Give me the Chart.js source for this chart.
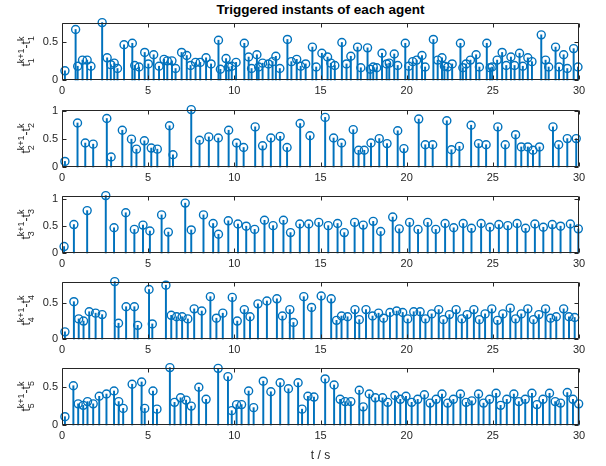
<!DOCTYPE html>
<html>
<head>
<meta charset="utf-8">
<script src="https://cdn.jsdelivr.net/npm/chart.js@4/dist/chart.umd.min.js"></script>
<style>
  html, body { margin: 0; padding: 0; background: #fff; }
  #fig { position: relative; width: 606px; height: 466px; overflow: hidden; background: #fff; }
  #fig canvas { position: absolute; left: 0; }
  #title { position: absolute; left: 62px; width: 517px; top: 2px; text-align: center;
           font: bold 13.5px "Liberation Sans", Arial, sans-serif; color: #000; }
</style>
</head>
<body>
<div id="fig"><div id="title">Triggered instants of each agent</div></div>
<script>
// Trigger instants t_i^k (s) and inter-event intervals t_i^{k+1} - t_i^k (s) for each agent
const t1 = [0.17,0.79,0.91,1.19,1.46,1.68,2.33,2.62,2.83,3.03,
            3.22,3.6,4.08,4.22,4.47,4.8,5.01,5.32,5.63,5.92,
            6.11,6.38,6.59,6.94,7.24,7.46,7.75,8.02,8.36,8.65,
            9.08,9.19,9.52,9.67,9.85,10.1,10.58,10.83,11.0,11.31,
            11.41,11.64,11.98,12.22,12.41,12.64,13.08,13.31,13.62,13.85,
            14.14,14.53,14.75,15.08,15.41,15.6,15.83,16.24,16.51,16.76,
            17.15,17.34,17.73,17.89,18.06,18.26,18.57,18.84,18.99,19.28,
            19.48,19.92,20.12,20.35,20.58,20.89,21.07,21.55,21.8,22.05,
            22.19,22.38,22.64,23.12,23.26,23.45,23.7,24.03,24.22,24.65,
            24.84,24.96,25.25,25.54,25.78,26.05,26.26,26.55,26.74,27.03,
            27.27,27.81,28.06,28.24,28.64,28.84,29.11,29.32,29.69,29.94];
const d1 = [0.12,0.66,0.18,0.26,0.26,0.18,0.75,0.29,0.2,0.22,
            0.15,0.46,0.48,0.19,0.17,0.36,0.21,0.33,0.18,0.27,
            0.25,0.25,0.15,0.36,0.32,0.19,0.23,0.23,0.29,0.21,
            0.52,0.14,0.28,0.17,0.18,0.23,0.48,0.3,0.15,0.33,
            0.17,0.22,0.21,0.24,0.31,0.15,0.53,0.24,0.27,0.18,
            0.21,0.43,0.17,0.35,0.3,0.22,0.19,0.49,0.21,0.31,
            0.43,0.16,0.42,0.14,0.17,0.16,0.35,0.21,0.22,0.34,
            0.19,0.48,0.18,0.24,0.26,0.32,0.17,0.53,0.26,0.29,
            0.18,0.17,0.21,0.48,0.16,0.21,0.26,0.33,0.17,0.48,
            0.16,0.17,0.26,0.36,0.19,0.3,0.19,0.35,0.18,0.29,
            0.24,0.59,0.26,0.17,0.43,0.17,0.33,0.15,0.41,0.17];

const t2 = [0.17,0.9,1.35,1.81,2.6,2.85,3.5,4.03,4.32,4.78,
            5.18,5.53,6.24,6.44,7.5,7.98,8.52,9.07,9.67,10.13,
            10.54,11.21,11.64,12.12,12.66,13.06,13.82,14.39,15.27,15.76,
            16.22,16.9,17.21,17.54,17.93,18.41,18.86,19.48,19.84,20.7,
            21.08,21.51,22.33,22.6,23.06,23.74,24.17,24.61,25.29,25.72,
            26.32,26.65,27.03,27.33,27.71,28.49,28.82,29.32,29.84];
const d2 = [0.1,0.79,0.43,0.41,0.87,0.18,0.66,0.5,0.32,0.47,
            0.34,0.32,0.74,0.22,1.03,0.48,0.54,0.52,0.66,0.43,
            0.35,0.72,0.38,0.52,0.55,0.35,0.78,0.56,0.89,0.52,
            0.43,0.67,0.3,0.3,0.43,0.51,0.42,0.65,0.33,0.86,
            0.4,0.4,0.83,0.31,0.37,0.75,0.42,0.4,0.72,0.4,
            0.58,0.36,0.36,0.3,0.36,0.72,0.4,0.51,0.51];

const t3 = [0.12,0.69,1.46,2.54,3.02,3.7,4.2,4.7,5.1,5.78,
            6.17,7.15,7.5,8.21,8.77,9.08,9.65,10.21,10.69,11.18,
            11.75,12.25,12.85,13.26,13.8,14.32,14.9,15.45,15.99,16.38,
            16.98,17.48,18.06,18.49,19.19,19.57,20.17,20.66,21.22,21.69,
            22.23,22.73,23.28,23.76,24.32,24.83,25.35,25.87,26.41,26.9,
            27.44,27.93,28.45,28.93,29.5,29.96];
const d3 = [0.12,0.53,0.79,1.07,0.47,0.75,0.44,0.52,0.41,0.71,
            0.39,0.93,0.43,0.71,0.55,0.35,0.6,0.54,0.5,0.44,
            0.61,0.51,0.61,0.38,0.54,0.54,0.57,0.51,0.55,0.38,
            0.57,0.52,0.59,0.4,0.67,0.45,0.57,0.44,0.57,0.44,
            0.55,0.47,0.55,0.46,0.55,0.48,0.53,0.51,0.55,0.46,
            0.54,0.48,0.53,0.5,0.54,0.45];

const t4 = [0.17,0.69,0.97,1.25,1.58,1.95,2.33,3.06,3.28,3.72,
            4.2,4.39,5.05,5.24,6.03,6.34,6.65,6.97,7.3,7.67,
            8.11,8.61,8.96,9.33,9.88,10.17,10.58,10.91,11.37,11.89,
            12.47,12.79,13.22,13.43,14.03,14.48,15.04,15.62,15.93,16.22,
            16.57,17.0,17.25,17.64,18.02,18.37,18.66,19.03,19.42,19.77,
            20.06,20.41,20.78,21.09,21.45,21.86,22.13,22.48,22.87,23.2,
            23.51,23.9,24.22,24.55,24.94,25.27,25.58,26.01,26.32,26.65,
            27.03,27.36,27.67,28.06,28.35,28.68,29.11,29.42,29.75];
const d4 = [0.1,0.52,0.28,0.25,0.38,0.36,0.34,0.8,0.22,0.45,
            0.45,0.19,0.69,0.21,0.75,0.33,0.31,0.31,0.28,0.42,
            0.39,0.59,0.29,0.36,0.58,0.25,0.41,0.31,0.49,0.53,
            0.56,0.32,0.41,0.23,0.59,0.44,0.6,0.56,0.26,0.32,
            0.31,0.41,0.27,0.41,0.32,0.36,0.29,0.37,0.39,0.37,
            0.28,0.38,0.38,0.28,0.35,0.41,0.27,0.34,0.41,0.28,
            0.34,0.41,0.27,0.35,0.42,0.26,0.35,0.43,0.28,0.35,
            0.42,0.27,0.34,0.42,0.29,0.31,0.42,0.31,0.3];

const t5 = [0.17,0.66,0.94,1.23,1.48,1.81,2.16,2.58,3.02,3.29,
            3.55,4.07,4.62,4.8,5.28,5.51,6.26,6.53,6.88,7.2,
            7.5,7.94,8.36,9.06,9.63,9.85,10.13,10.42,10.83,11.12,
            11.68,12.12,12.66,13.14,13.7,13.93,14.27,14.62,15.27,15.79,
            16.14,16.43,16.76,17.25,17.48,17.83,18.18,18.6,18.9,19.32,
            19.63,19.96,20.29,20.64,21.03,21.36,21.71,22.05,22.38,22.71,
            23.12,23.45,23.78,24.17,24.46,24.81,25.19,25.45,25.81,26.22,
            26.51,26.88,27.27,27.56,27.91,28.29,28.62,28.93,29.32,29.65,29.98];
const d5 = [0.11,0.52,0.28,0.26,0.31,0.28,0.38,0.41,0.45,0.31,
            0.22,0.54,0.57,0.22,0.45,0.21,0.76,0.3,0.36,0.33,
            0.25,0.5,0.34,0.75,0.64,0.19,0.27,0.27,0.45,0.23,
            0.58,0.44,0.56,0.48,0.56,0.21,0.38,0.37,0.61,0.53,
            0.34,0.31,0.31,0.46,0.24,0.41,0.36,0.36,0.3,0.39,
            0.34,0.38,0.3,0.34,0.4,0.29,0.34,0.41,0.29,0.34,
            0.41,0.3,0.32,0.41,0.29,0.34,0.42,0.26,0.34,0.41,
            0.31,0.34,0.42,0.27,0.34,0.42,0.31,0.29,0.43,0.34,0.28];

const xTicks = [0, 5, 10, 15, 20, 25, 30];
const yTicks = [[0, 0.5], [0, 0.5, 1], [0, 0.5, 1], [0, 0.5], [0, 0.5]];
const xLabel = 't / s';

const instants = [t1, t2, t3, t4, t5];
const intervals = [d1, d2, d3, d4, d5];

// Layout of the five stacked axes
const BLUE = '#0072BD';
const AXIS = '#262626';
const FONT = '"Liberation Sans", Arial, sans-serif';
const PLOT_L = 62, PLOT_R = 579, PLOT_H = 58;
const PLOT_TOPS = [22, 109, 195, 281, 367];
const PAD_T = 10;

// Draws t_i^{k+1}-t_i^k rotated, with stacked super/subscripts
function drawYLabel(ctx, cx, cy, agent) {
  const big = '12px ' + FONT, small = '9px ' + FONT;
  const parts = [
    { main: 't', sup: 'k+1', sub: String(agent) },
    { main: '-' },
    { main: 't', sup: 'k', sub: String(agent) }
  ];
  ctx.save();
  const widths = parts.map(p => {
    ctx.font = big;
    const wm = ctx.measureText(p.main).width;
    ctx.font = small;
    const ws = Math.max(p.sup ? ctx.measureText(p.sup).width : 0,
                        p.sub ? ctx.measureText(p.sub).width : 0);
    return [wm, ws];
  });
  const total = widths.reduce((a, w) => a + w[0] + w[1], 0);
  ctx.translate(cx, cy);
  ctx.rotate(-Math.PI / 2);
  ctx.fillStyle = AXIS;
  ctx.textAlign = 'left';
  ctx.textBaseline = 'alphabetic';
  let u = -total / 2;
  parts.forEach((p, i) => {
    ctx.font = big;
    ctx.fillText(p.main, u, 0);
    u += widths[i][0];
    ctx.font = small;
    if (p.sup) ctx.fillText(p.sup, u, -6.5);
    if (p.sub) ctx.fillText(p.sub, u, 4);
    u += widths[i][1];
  });
  ctx.restore();
}

// Box around each axes with inward ticks on all four sides, plus axis labels
const boxPlugin = {
  id: 'box',
  afterDraw(chart, args, opts) {
    const { ctx, chartArea: a, scales } = chart;
    const L = Math.round(a.left) + 0.5, R = Math.round(a.right) - 0.5;
    const T = Math.round(a.top) + 0.5, B = Math.round(a.bottom) - 0.5;
    ctx.save();
    ctx.strokeStyle = AXIS;
    ctx.lineWidth = 1;
    ctx.beginPath();
    ctx.rect(L, T, R - L, B - T);
    const tl = 4;
    scales.x.ticks.forEach(tk => {
      const x = Math.round(scales.x.getPixelForValue(tk.value)) + 0.5;
      ctx.moveTo(x, B); ctx.lineTo(x, B - tl);
      ctx.moveTo(x, T); ctx.lineTo(x, T + tl);
    });
    scales.y.ticks.forEach(tk => {
      const y = Math.round(scales.y.getPixelForValue(tk.value)) + 0.5;
      ctx.moveTo(L, y); ctx.lineTo(L + tl, y);
      ctx.moveTo(R, y); ctx.lineTo(R - tl, y);
    });
    ctx.stroke();
    ctx.restore();

    drawYLabel(ctx, 30, (a.top + a.bottom) / 2, opts.agent);

    if (opts.xTitle) {
      ctx.save();
      ctx.fillStyle = AXIS;
      ctx.font = '12px ' + FONT;
      ctx.textAlign = 'center';
      ctx.textBaseline = 'middle';
      ctx.fillText(opts.xTitle, (a.left + a.right) / 2, a.bottom + 31);
      ctx.restore();
    }
  }
};

const fig = document.getElementById('fig');

instants.forEach((times, i) => {
  const last = i === instants.length - 1;
  const bottomSpace = last ? 45 : 24;
  const H = PAD_T + PLOT_H + bottomSpace;
  const cv = document.createElement('canvas');
  cv.width = 606; cv.height = H;
  cv.style.width = '606px'; cv.style.height = H + 'px';
  cv.style.top = (PLOT_TOPS[i] - PAD_T) + 'px';
  fig.appendChild(cv);

  const pts = times.map((t, k) => ({ x: t, y: intervals[i][k] }));
  const yMax = Math.max(...intervals[i]);

  new Chart(cv, {
    type: 'bar',
    data: {
      datasets: [
        { type: 'bar', data: pts, backgroundColor: BLUE, borderWidth: 0,
          barThickness: 1.3, clip: false, order: 2 },
        { type: 'line', data: pts, showLine: false, pointStyle: 'circle',
          pointRadius: 4, pointBorderWidth: 1.4, pointBorderColor: BLUE,
          pointBackgroundColor: 'rgba(0,0,0,0)', borderColor: BLUE, clip: false, order: 1 }
      ]
    },
    options: {
      responsive: false,
      animation: false,
      devicePixelRatio: 1,
      layout: { padding: { left: 0, right: 606 - PLOT_R, top: PAD_T, bottom: 0 } },
      plugins: { legend: { display: false }, tooltip: { enabled: false }, box: { agent: i + 1, xTitle: last ? xLabel : null } },
      scales: {
        x: {
          type: 'linear', min: 0, max: 30, offset: false,
          grid: { display: false, drawTicks: false }, border: { display: false },
          ticks: { color: AXIS, font: { family: FONT, size: 11 }, padding: 4,
                   maxRotation: 0, autoSkip: false },
          afterBuildTicks: s => { s.ticks = xTicks.map(v => ({ value: v })); },
          afterFit: s => { s.height = bottomSpace; }
        },
        y: {
          type: 'linear', min: 0, max: yMax,
          grid: { display: false, drawTicks: false }, border: { display: false },
          ticks: { color: AXIS, font: { family: FONT, size: 11 }, padding: 4,
                   callback: v => String(v) },
          afterBuildTicks: s => { s.ticks = yTicks[i].map(v => ({ value: v })); },
          afterFit: s => { s.width = PLOT_L; }
        }
      }
    },
    plugins: [boxPlugin]
  });
});
</script>
</body>
</html>
